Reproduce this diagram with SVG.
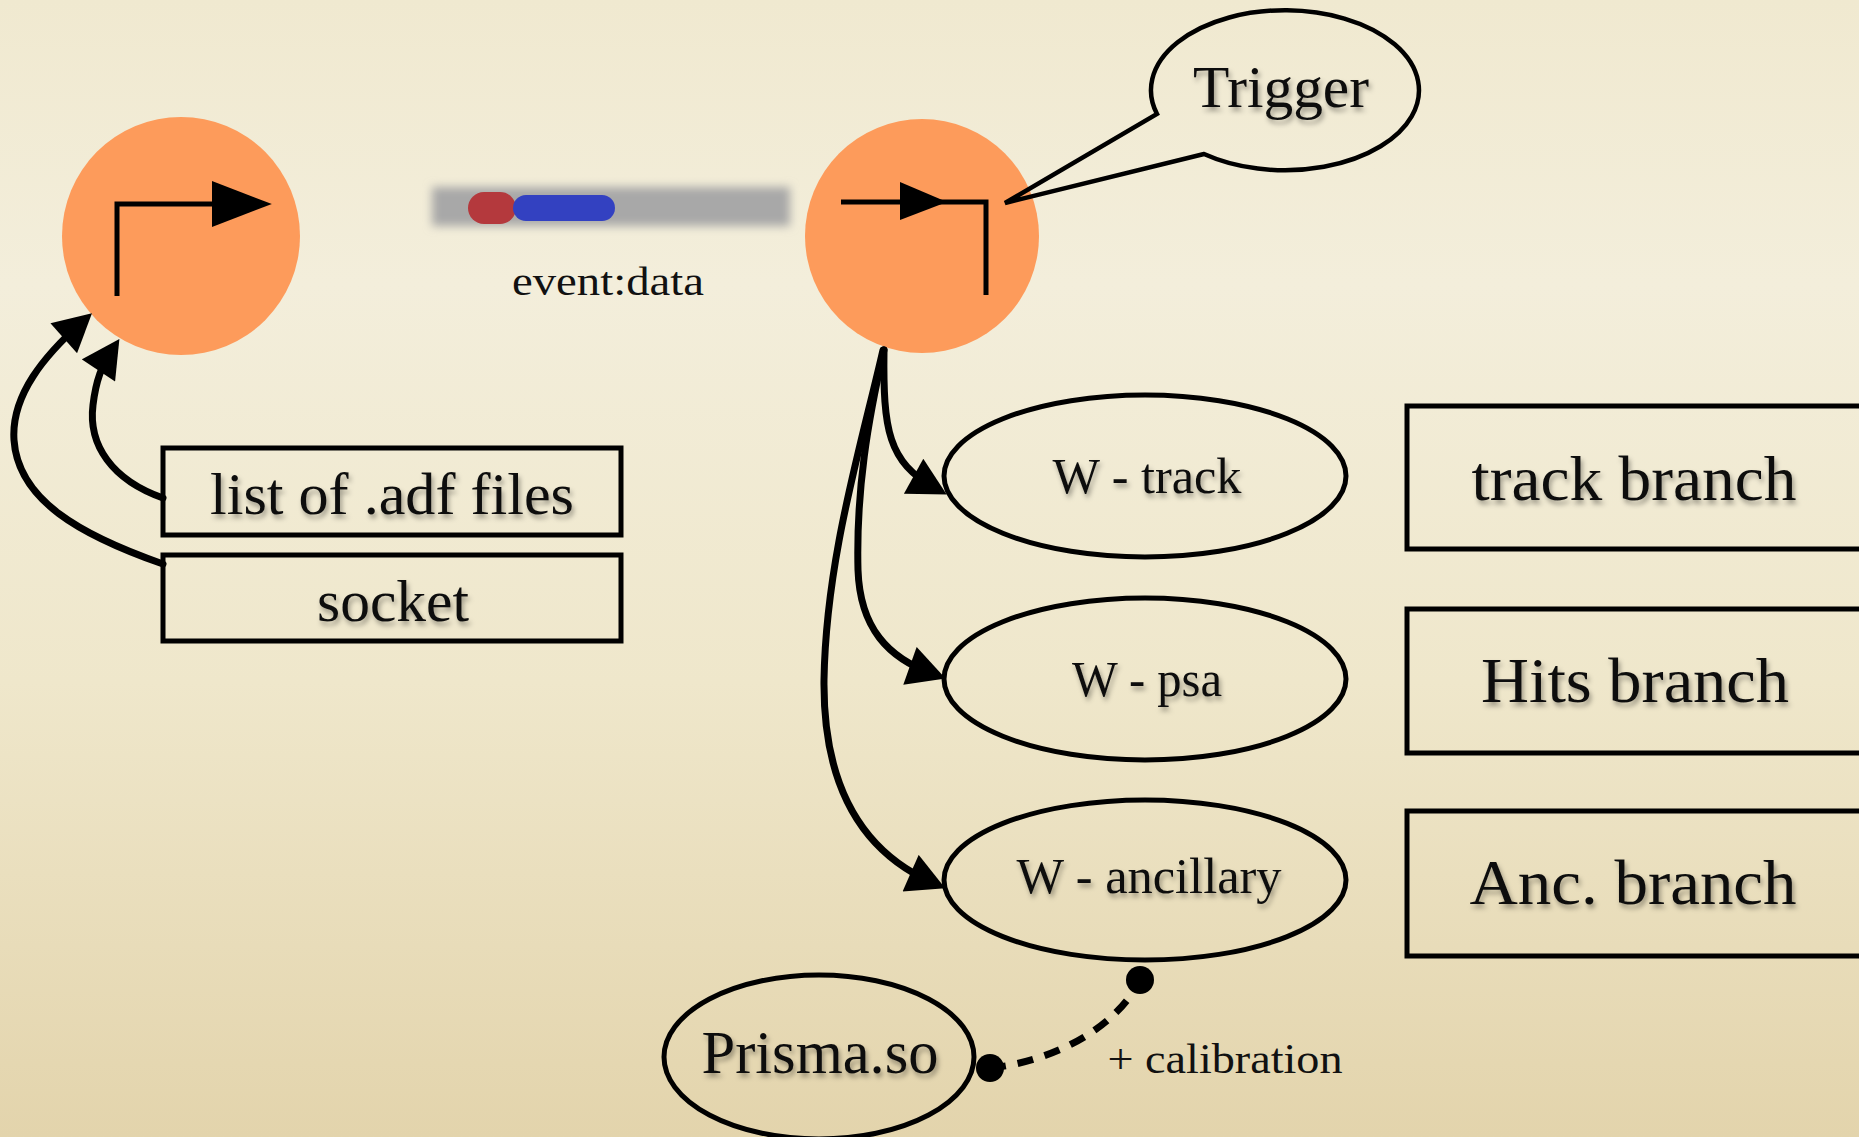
<svg xmlns="http://www.w3.org/2000/svg" width="1859" height="1137" viewBox="0 0 1859 1137">
<defs>
<linearGradient id="bg" x1="0" y1="0" x2="0" y2="1">
<stop offset="0" stop-color="#f0e9d0"/>
<stop offset="0.25" stop-color="#f3eedb"/>
<stop offset="0.6" stop-color="#efe7cb"/>
<stop offset="1" stop-color="#e3d4ac"/>
</linearGradient>
<filter id="blur" x="-10%" y="-60%" width="120%" height="220%"><feGaussianBlur stdDeviation="5"/></filter>
<filter id="tshadow" x="-5%" y="-20%" width="110%" height="150%"><feDropShadow dx="2" dy="4" stdDeviation="2.5" flood-color="#000" flood-opacity="0.35"/></filter>
<marker id="arrow" markerUnits="userSpaceOnUse" markerWidth="40" markerHeight="40" viewBox="0 0 34 36" refX="22" refY="18" orient="auto">
<path d="M0,0 L34,18 L0,36 Z" fill="#000"/>
</marker>
<marker id="arrowS" markerUnits="userSpaceOnUse" markerWidth="60" markerHeight="50" viewBox="0 0 52 40" refX="40" refY="20" orient="auto">
<path d="M0,0 L52,20 L0,40 Z" fill="#000"/>
</marker>
</defs>
<style>
.lbl{font-family:"Liberation Serif","DejaVu Serif",serif;fill:#111;filter:url(#tshadow);text-anchor:middle}
.box{fill:none;stroke:#000;stroke-width:5}
.ell{fill:none;stroke:#000;stroke-width:5}
.orb{fill:#fd9b5b}
.icon{fill:none;stroke:#000;stroke-width:5}
.conn{fill:none;stroke:#000;stroke-width:7;stroke-linecap:round}
.dash{fill:none;stroke:#000;stroke-width:7;stroke-dasharray:16 12}
</style>
<rect x="0" y="0" width="1859" height="1137" fill="url(#bg)"/>

<g id="source">
<circle class="orb" cx="181" cy="236" r="119"/>
<path class="icon" d="M117,296 L117,204 L258,204" marker-end="url(#arrowS)"/>
</g>

<g id="event-data">
<rect x="432" y="187" width="358" height="39" fill="#a8a8a8" filter="url(#blur)"/>
<rect x="468" y="192" width="48" height="32" rx="16" fill="#b4393d"/>
<rect x="513" y="195" width="102" height="26" rx="13" fill="#3341c1"/>
<text class="lbl" x="608" y="295" font-size="40" textLength="192" lengthAdjust="spacingAndGlyphs" style="filter:none">event:data</text>
</g>

<g id="consumer">
<circle cx="922" cy="236" r="117" class="orb"/>
<path class="icon" d="M986,295 L986,202 L841,202"/>
<path d="M900,182 L947,202 L900,220 Z" fill="#000"/>
</g>

<g id="trigger">
<path d="M1204,154 L1005,203 L1157,114 A134,80 0 1 1 1204,154 Z" fill="none" stroke="#000" stroke-width="4.5" stroke-linejoin="miter"/>
<text class="lbl" x="1281" y="107" font-size="60" textLength="176" lengthAdjust="spacingAndGlyphs">Trigger</text>
</g>

<g id="list-adf">
<rect class="box" x="163" y="448" width="458" height="87"/>
<text class="lbl" x="392" y="514" font-size="60" textLength="364" lengthAdjust="spacingAndGlyphs">list of .adf files</text>
</g>

<g id="socket">
<rect class="box" x="163" y="555" width="458" height="86"/>
<text class="lbl" x="393" y="621" font-size="60" textLength="152" lengthAdjust="spacingAndGlyphs">socket</text>
</g>

<g id="w-track">
<ellipse class="ell" cx="1145" cy="476" rx="201" ry="81"/>
<text class="lbl" x="1147" y="493" font-size="50" textLength="189" lengthAdjust="spacingAndGlyphs">W - track</text>
</g>

<g id="w-psa">
<ellipse class="ell" cx="1145" cy="679" rx="201" ry="81"/>
<text class="lbl" x="1147" y="696" font-size="50" textLength="150" lengthAdjust="spacingAndGlyphs">W - psa</text>
</g>

<g id="w-ancillary">
<ellipse class="ell" cx="1145" cy="880" rx="201" ry="80"/>
<text class="lbl" x="1149" y="893" font-size="50" textLength="265" lengthAdjust="spacingAndGlyphs">W - ancillary</text>
</g>

<g id="track-branch">
<rect class="box" x="1407" y="406" width="470" height="143"/>
<text class="lbl" x="1634" y="500" font-size="64" textLength="325" lengthAdjust="spacingAndGlyphs">track branch</text>
</g>

<g id="hits-branch">
<rect class="box" x="1407" y="609" width="470" height="144"/>
<text class="lbl" x="1635" y="702" font-size="64" textLength="308" lengthAdjust="spacingAndGlyphs">Hits branch</text>
</g>

<g id="anc-branch">
<rect class="box" x="1407" y="811" width="470" height="145"/>
<text class="lbl" x="1633" y="904" font-size="64" textLength="327" lengthAdjust="spacingAndGlyphs">Anc. branch</text>
</g>

<g id="prisma">
<ellipse class="ell" cx="819" cy="1057" rx="155" ry="82"/>
<text class="lbl" x="820" y="1073" font-size="62" textLength="237" lengthAdjust="spacingAndGlyphs">Prisma.so</text>
</g>

<g id="connectors">
<path class="conn" d="M163,498 C112,480 88,445 93,405 C96,380 102,365 112,350" marker-end="url(#arrow)"/>
<path class="conn" d="M163,564 C80,535 18,500 14,440 C11,395 45,355 82,322" marker-end="url(#arrow)"/>
<path class="conn" d="M884,350 C883,430 888,462 935,488" marker-end="url(#arrow)"/>
<path class="conn" d="M884,350 C868,420 856,490 858,570 C860,628 888,658 933,674" marker-end="url(#arrow)"/>
<path class="conn" d="M883,350 C860,450 826,560 824,680 C823,780 858,850 933,883" marker-end="url(#arrow)"/>
<path class="dash" d="M990,1068 C1050,1062 1115,1030 1140,980"/>
<circle cx="1140" cy="980" r="14" fill="#000"/>
<circle cx="990" cy="1068" r="14" fill="#000"/>
<text class="lbl" x="1225" y="1073" font-size="42" textLength="235" lengthAdjust="spacingAndGlyphs" style="filter:none">+ calibration</text>
</g>
</svg>
